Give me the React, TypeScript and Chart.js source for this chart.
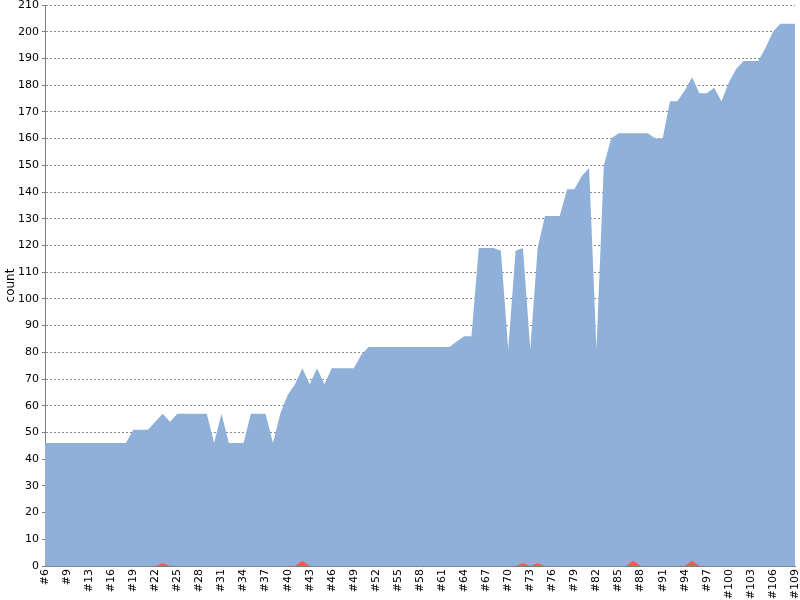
import React, { useEffect, useRef } from 'react';
import { Chart, registerables } from 'chart.js';

Chart.register(...registerables);

// build numbers (#11 is missing from the history)
const builds = [
  6, 7, 8, 9, 10, 12, 13, 14, 15, 16, 17, 18, 19, 20, 21, 22, 23, 24, 25, 26,
  27, 28, 29, 30, 31, 32, 33, 34, 35, 36, 37, 38, 39, 40, 41, 42, 43, 44, 45, 46,
  47, 48, 49, 50, 51, 52, 53, 54, 55, 56, 57, 58, 59, 60, 61, 62, 63, 64, 65, 66,
  67, 68, 69, 70, 71, 72, 73, 74, 75, 76, 77, 78, 79, 80, 81, 82, 83, 84, 85, 86,
  87, 88, 89, 90, 91, 92, 93, 94, 95, 96, 97, 98, 99, 100, 101, 102, 103, 104, 105, 106,
  107, 108, 109,
];

const totalCounts = [
  46, 46, 46, 46, 46, 46, 46, 46, 46, 46, 46, 46, 51, 51, 51, 54, 57, 54, 57, 57,
  57, 57, 57, 46, 57, 46, 46, 46, 57, 57, 57, 46, 57, 64, 68, 74, 68, 74, 68, 74,
  74, 74, 74, 79, 82, 82, 82, 82, 82, 82, 82, 82, 82, 82, 82, 82, 84, 86, 86, 119,
  119, 119, 118, 81, 118, 119, 81, 119, 131, 131, 131, 141, 141, 146, 149, 81, 150, 160, 162, 162,
  162, 162, 162, 160, 160, 174, 174, 178, 183, 177, 177, 179, 174, 181, 186, 189, 189, 189, 194, 200,
  203, 203, 203,
];

const failedCounts = [
  0, 0, 0, 0, 0, 0, 0, 0, 0, 0, 0, 0, 0, 0, 0, 0, 1, 0, 0, 0,
  0, 0, 0, 0, 0, 0, 0, 0, 0, 0, 0, 0, 0, 0, 0, 2, 0, 0, 0, 0,
  0, 0, 0, 0, 0, 0, 0, 0, 0, 0, 0, 0, 0, 0, 0, 0, 0, 0, 0, 0,
  0, 0, 0, 0, 0, 1, 0, 1, 0, 0, 0, 0, 0, 0, 0, 0, 0, 0, 0, 0,
  2, 0, 0, 0, 0, 0, 0, 0, 2, 0, 0, 0, 0, 0, 0, 0, 0, 0, 0, 0,
  0, 0, 0,
];

const labels = builds.map(b => '#' + b);

const App: React.FC = () => {
  const chartRef = useRef<HTMLCanvasElement>(null);
  const chartInstanceRef = useRef<Chart | null>(null);

  useEffect(() => {
    document.body.style.margin = '0';
    if (!chartRef.current) return;
    const ctx = chartRef.current.getContext('2d');
    if (!ctx) return;

    const font = { family: 'DejaVu Sans', size: 11 };

    chartInstanceRef.current = new Chart(ctx, {
      type: 'line',
      data: {
        labels,
        datasets: [
          {
            label: 'failed',
            data: failedCounts,
            order: 0,
            fill: 'origin',
            backgroundColor: 'rgb(236, 92, 80)',
            borderWidth: 0,
            pointRadius: 0,
            tension: 0,
          },
          {
            label: 'count',
            data: totalCounts,
            order: 1,
            fill: 'origin',
            backgroundColor: 'rgb(143, 176, 217)',
            borderWidth: 0,
            pointRadius: 0,
            tension: 0,
          },
        ],
      },
      options: {
        animation: false,
        responsive: true,
        maintainAspectRatio: false,
        layout: { padding: { left: 0, right: 5, top: 0, bottom: 0 } },
        plugins: {
          legend: { display: false },
          tooltip: { enabled: false },
        },
        scales: {
          x: {
            type: 'category',
            offset: false,
            grid: { display: false, drawTicks: false, tickLength: 0 },
            border: { color: '#808080' },
            ticks: {
              autoSkip: false,
              maxRotation: 90,
              minRotation: 90,
              padding: 3,
              color: '#000',
              font,
              callback: (_v, i) => (i % 3 === 0 ? labels[i] : null),
            },
            afterFit: (scale) => {
              scale.height = 34;
              scale.paddingLeft = 0;
              scale.paddingRight = 0;
            },
          },
          y: {
            min: 0,
            max: 210,
            ticks: { stepSize: 10, color: '#000', font, padding: 3 },
            grid: { color: '#8a8a8a', tickLength: 3, tickColor: '#808080' },
            border: { color: '#808080', dash: [2, 2] },
            title: {
              display: true,
              text: 'count',
              color: '#000',
              font: { family: 'DejaVu Sans', size: 12 },
              padding: { top: 4, bottom: 0 },
            },
            afterFit: (scale) => {
              scale.width = 45;
              scale.paddingTop = 5;
              scale.paddingBottom = 0;
            },
          },
        },
      },
    });

    return () => {
      if (chartInstanceRef.current) {
        chartInstanceRef.current.destroy();
      }
    };
  }, []);

  return (
    <div style={{ width: 800, height: 600, background: '#fff' }}>
      <canvas ref={chartRef} />
    </div>
  );
};

export default App;
